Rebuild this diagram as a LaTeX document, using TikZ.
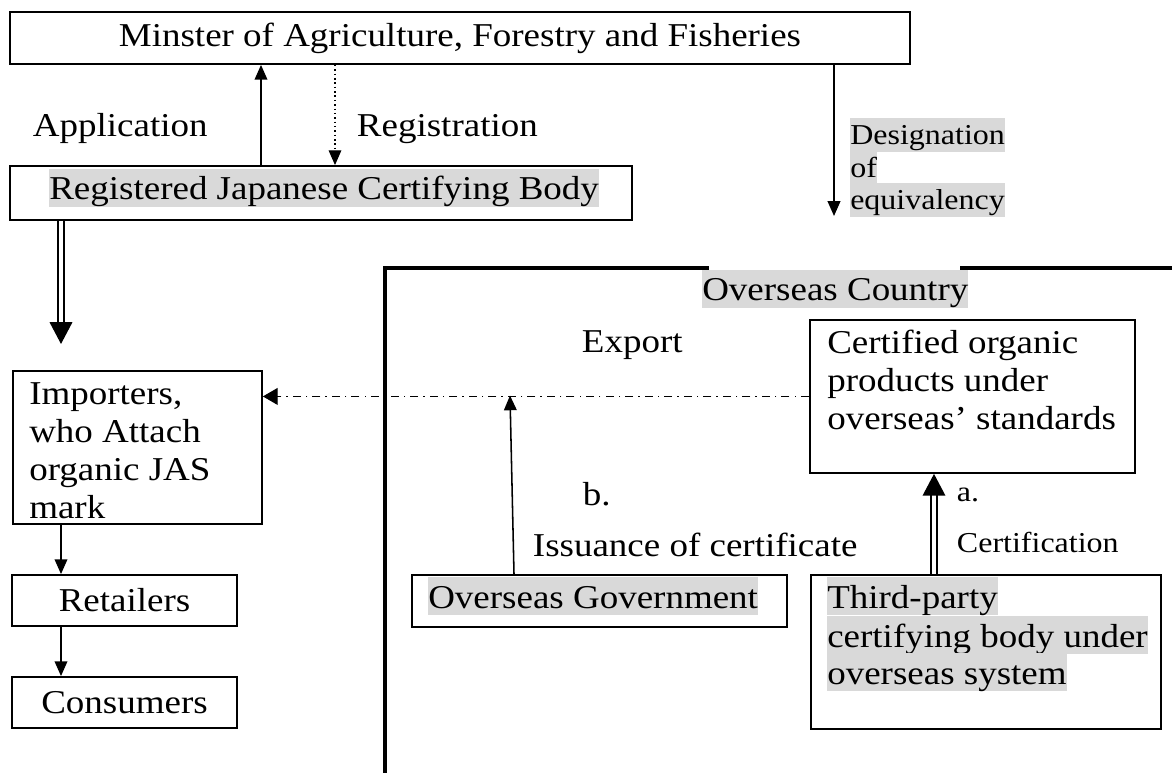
\documentclass[tikz,border=0pt]{standalone}
\usepackage{fontspec}
\setmainfont{Liberation Serif}[FakeStretch=1.11]
\usetikzlibrary{arrows.meta}
\definecolor{hilite}{HTML}{D9D9D9}

\tikzset{
  box/.style={draw,line width=1.3pt,inner sep=0pt},
  bigtxt/.style={font=\fontsize{23.7}{27}\selectfont},
  smalltxt/.style={font=\fontsize{20.5}{23.5}\selectfont},
  hl/.style={fill=hilite,inner sep=0pt,text height=#1,text depth=5.2pt},
  arr/.style={->,>={Triangle[length=10.5pt,width=9pt]},line width=1.1pt},
  dblarr/.style={->,>={Triangle[length=15.5pt,width=16pt]},double,double distance=3pt,line width=1.3pt},
  exparr/.style={->,>={Triangle[length=10.5pt,width=12pt]},line width=0.8pt,dash pattern=on 5.7pt off 3.6pt on 1pt off 3.6pt},
  frame/.style={line width=2.2pt}
}

\begin{document}
\begin{tikzpicture}[x=0.025cm,y=-0.025cm]
  \useasboundingbox (0,0) rectangle (1172,773);

  % ministry and the registered body
  \node[box,bigtxt,minimum width=22.5cm,minimum height=1.3cm] (minister) at (460,38) {Minster of Agriculture, Forestry and Fisheries};
  \node[box,minimum width=15.55cm,minimum height=1.35cm] (regbody) at (321,193) {};
  \node[hl=22pt,bigtxt,anchor=base west] (regtext) at (49,200) {Registered Japanese Certifying Body};

  \coordinate (appx) at (261,0);
  \coordinate (regx) at (335,0);
  \draw[arr] (appx |- regbody.north) -- (appx |- minister.south);
  \draw[arr,dotted,line width=0.8pt] (regx |- minister.south) -- (regx |- regbody.north);
  \node[bigtxt,anchor=base west] (application) at (28,137) {Application};
  \node[bigtxt,anchor=base west] (registration) at (352,137) {Registration};

  \coordinate (desx) at (834,0);
  \coordinate (desend) at (834,216);
  \draw[arr] (desx |- minister.south) -- (desend);
  \node[hl=19pt,smalltxt,anchor=base west] (desig1) at (850,145) {Designation\ };
  \node[hl=19pt,smalltxt,anchor=base west] (desig2) at (850,177.5) {of};
  \node[hl=19pt,smalltxt,anchor=base west] (desig3) at (850,210) {equivalency};

  % importers, retailers, consumers
  \coordinate (dblx) at (61,0);
  \coordinate (dblend) at (61,344);
  \draw[dblarr] (dblx |- regbody.south) -- (dblend);

  \node[box,anchor=north west,minimum width=6.225cm,minimum height=3.825cm] (importers) at (12,370) {};
  \node[bigtxt,align=left,anchor=north west,inner sep=0pt] (importerstxt) at (29,382) {Importers,\\who Attach\\organic JAS\\mark};
  \node[box,bigtxt,minimum width=5.625cm,minimum height=1.275cm] (retailers) at (124.5,600.5) {Retailers};
  \node[box,bigtxt,minimum width=5.625cm,minimum height=1.275cm] (consumers) at (124.5,702.5) {Consumers};
  \draw[arr] (importers.south -| dblx) -- (retailers.north -| dblx);
  \draw[arr] (retailers.south -| dblx) -- (consumers.north -| dblx);

  % overseas country
  \draw[frame] (385,773) |- (709,268);
  \draw[frame] (960,268) -- (1172,268);
  \node[hl=22pt,bigtxt,anchor=base west] (overseas) at (702,301) {Overseas Country};

  \node[box,anchor=north west,minimum width=8.125cm,minimum height=3.825cm] (certified) at (809,319) {};
  \node[bigtxt,align=left,anchor=north west,inner sep=0pt] (certifiedtxt) at (827,330) {Certified organic\\products under\\overseas’ standards};

  \node[bigtxt,anchor=base west] (export) at (577,353) {Export};
  \draw[exparr] (certified.west) -- (importers.east |- certified.west);

  \node[box,anchor=north west,minimum width=9.375cm,minimum height=1.3cm] (overseasgov) at (411,574) {};
  \node[hl=22pt,bigtxt,anchor=base west] (govtxt) at (428,608) {Overseas Government};

  \node[box,anchor=north west,minimum width=8.75cm,minimum height=3.85cm] (thirdparty) at (810,574) {};
  \node[hl=22pt,bigtxt,anchor=base west] (third1) at (827,608) {Third-party\ };
  \node[hl=22pt,bigtxt,anchor=base west] (third2) at (827,647) {certifying body under};
  \node[hl=22pt,bigtxt,anchor=base west] (third3) at (827,684) {overseas system};

  \coordinate (govx) at (514,0);
  \coordinate (govtip) at (510,395.5);
  \draw[arr] (govx |- overseasgov.north) -- (govtip);
  \node[bigtxt,anchor=base west] (bmark) at (578,506) {b.};
  \node[bigtxt,anchor=base west] (issuance) at (528,557) {Issuance of certificate};

  \coordinate (certx) at (934,0);
  \draw[dblarr] (certx |- thirdparty.north) -- (certx |- certified.south);
  \node[smalltxt,anchor=base west] (amark) at (952,502) {a.};
  \node[smalltxt,anchor=base west] (certification) at (952,553) {Certification};
\end{tikzpicture}
\end{document}
